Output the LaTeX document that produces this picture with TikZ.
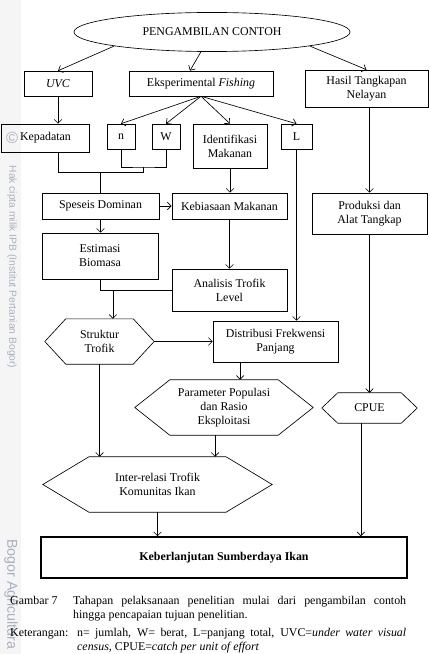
\documentclass[tikz,border=0pt]{standalone}
\usepackage{fontspec}
\setmainfont{Liberation Serif}
\newfontfamily\wmfont{Liberation Sans}
\usepackage{xcolor}
\usepackage{tikz}
\usetikzlibrary{shapes.geometric, arrows.meta, calc}
\definecolor{wmark}{RGB}{170,176,192}
\tikzset{
    box/.style={
        rectangle,
        draw=black,
        line width=0.6pt,
        inner sep=1pt,
        align=center,
        font=\fontsize{11}{13}\selectfont
    },
    hexa/.style={
        rectangle,
        inner sep=1pt,
        align=center,
        font=\fontsize{11}{13}\selectfont
    },
    oval/.style={
        ellipse,
        draw=black,
        line width=0.6pt,
        inner sep=1pt,
        font=\fontsize{11}{13}\selectfont
    },
    line/.style={
        draw=black,
        line width=0.6pt
    },
    arrow/.style={
        line,
        -{Straight Barb[length=3.5pt,width=7pt]}
    },
    caption/.style={
        inner sep=0pt,
        anchor=base west,
        font=\fontsize{11}{13}\selectfont
    },
    wm/.style={
        inner sep=0pt,
        text=wmark,
        font=\wmfont\fontsize{9.5}{10}\selectfont
    }
}
% outline of a hexagon round a named node: #1 name, #2 inset
\newcommand{\hexframe}[2]{%
  \draw[line] (#1.west) -- ([xshift=#2]#1.north west) -- ([xshift=-#2]#1.north east)
    -- (#1.east) -- ([xshift=-#2]#1.south east) -- ([xshift=#2]#1.south west) -- cycle;}

\begin{document}
\begin{tikzpicture}[x=0.0325cm, y=-0.0325cm]
\useasboundingbox (0,0) rectangle (430,654);

% watermark strip
\fill[gray!8] (0,0) rectangle (21,654);
\node[wm, font=\wmfont\fontsize{15}{15}\selectfont] (wmc) at (12,138) {\textcopyright};
\node[wm, rotate=-90] (wmtop) at (12,267) {Hak cipta milik IPB (Institut Pertanian Bogor)};
\node[wm, rotate=-90, anchor=west, font=\wmfont\fontsize{13.2}{14}\selectfont] (wmbot) at (11,539) {Bogor Agricultura};

\node[oval, minimum width=8.97cm, minimum height=1.27cm] (peng) at (212,32) {PENGAMBILAN CONTOH};

\node[box, minimum width=2.21cm, minimum height=0.81cm] (uvc) at (58,83.5) {\textit{UVC}};
\node[box, minimum width=4.68cm, minimum height=0.81cm] (eksp) at (201,83.5) {Eksperimental \textit{Fishing}};
\node[box, minimum width=4cm, minimum height=1.2cm] (hasil) at (366.5,88.5) {Hasil Tangkapan\\Nelayan};

\node[box, minimum width=2.86cm, minimum height=0.91cm] (kep) at (45.5,138) {Kepadatan};
\node[box, minimum width=0.91cm, minimum height=0.81cm] (n) at (121,136.5) {n};
\node[box, minimum width=0.91cm, minimum height=0.81cm] (W) at (166,136.5) {W};
\node[box, minimum width=2.4cm, minimum height=1.43cm] (ident) at (230,146) {Identifikasi\\Makanan};
\node[box, minimum width=1.01cm, minimum height=0.81cm] (L) at (296.5,136.5) {L};

\node[box, minimum width=3.8cm, minimum height=0.845cm] (spes) at (100.5,206) {Speseis Dominan};
\node[box, minimum width=3.74cm, minimum height=0.845cm] (kebi) at (229.5,206) {Kebiasaan Makanan};
\node[box, minimum width=3.74cm, minimum height=1.33cm] (prod) at (369.5,213.5) {Produksi dan\\Alat Tangkap};
\node[box, minimum width=3.77cm, minimum height=1.495cm] (esti) at (100,256) {Estimasi\\Biomasa};
\node[box, minimum width=3.74cm, minimum height=1.365cm] (anal) at (229.5,290) {Analisis Trofik\\Level};

\node[hexa, minimum width=3.54cm, minimum height=1.46cm] (stru) at (99.5,341.5) {Struktur\\Trofik};
\node[box, minimum width=4.06cm, minimum height=1.33cm] (dist) at (275.5,341.5) {Distribusi Frekwensi\\Panjang};
\node[hexa, minimum width=5.785cm, minimum height=1.79cm] (para) at (224,407.5) {Parameter Populasi\\dan Rasio\\Eksploitasi};
\node[hexa, minimum width=3.09cm, minimum height=0.975cm] (cpue) at (369.5,408) {CPUE};
\node[hexa, minimum width=7.44cm, minimum height=1.79cm] (inter) at (157.5,484.5) {Inter-relasi Trofik\\Komunitas Ikan};
\node[box, line width=1.6pt, minimum width=11.9cm, minimum height=1.33cm, font=\fontsize{11}{13}\selectfont\bfseries] (keb) at (224,557.5) {Keberlanjutan Sumberdaya Ikan};

\hexframe{stru}{0.68cm}
\hexframe{para}{1.14cm}
\hexframe{cpue}{0.52cm}
\hexframe{inter}{1.5cm}

% junctions
\coordinate (nwjoin) at (143.5,167);
\coordinate (spjoin) at (143.5,172);

\draw[arrow] (peng.south west) -- (uvc.north);
\draw[arrow] ([xshift=-0.36cm]peng.south) -- ([xshift=-0.36cm]eksp.north);
\draw[arrow] (peng.south east) -- (hasil.north);
\draw[arrow] (eksp.south) -- (n.north);
\draw[arrow] (eksp.south) -- (W.north);
\draw[arrow] (eksp.south) -- (ident.north);
\draw[arrow] (eksp.south) -- (L.north);
\draw[arrow] (uvc.south) -- (uvc.south |- kep.north);
\draw[line] (n.south) |- (nwjoin) -| (W.south);
\draw[line] (nwjoin) -- (spjoin);
\draw[line] (uvc.south |- kep.south) |- (spjoin);
\draw[line] (spes.north |- spjoin) -- (spes.north);
\draw[arrow] (spes.east) -- (kebi.west);
\draw[arrow] (ident.south) -- (ident.south |- kebi.north);
\draw[arrow] (prod.north |- hasil.south) -- (prod.north);
\draw[arrow] (spes.south) -- (spes.south |- esti.north);
\draw[arrow] (kebi.south) -- (anal.north);
\draw[arrow] (L.south) -- (L.south |- dist.north);
\draw[line] (esti.south) |- (anal.west);
\draw[arrow] ([xshift=0.42cm]esti.south |- anal.west) -- ([xshift=0.42cm]esti.south |- stru.north);
\draw[arrow] (stru.east) -- (dist.west);
\draw[arrow] ([xshift=-1.15cm]dist.south) -- ([xshift=-1.15cm]dist.south |- para.north);
\draw[arrow] (prod.south) -- (cpue.north);
\draw[arrow] (stru.south) -- (stru.south |- inter.north);
\draw[arrow] ([xshift=-0.29cm]para.south) -- ([xshift=-0.29cm]para.south |- inter.north);
\draw[arrow] (inter.south) -- (inter.south |- keb.north);
\draw[arrow] ([xshift=-0.28cm]cpue.south) -- ([xshift=-0.28cm]cpue.south |- keb.north);

% caption
\node[caption] (capno) at (10,604) {Gambar 7};
\node[caption] (cap1) at (73,604) {\makebox[10.82cm][s]{Tahapan pelaksanaan penelitian mulai dari pengambilan contoh}};
\node[caption] (cap2) at (73,618) {hingga pencapaian tujuan penelitian.};
\node[caption] (ket1) at (10,636.5) {\makebox[12.87cm][s]{Keterangan: n= jumlah, W= berat, L=panjang total, UVC=\textit{under water visual}}};
\node[caption] (ket2) at (77,650.5) {\textit{census}, CPUE=\textit{catch per unit of effort}};

\end{tikzpicture}
\end{document}
